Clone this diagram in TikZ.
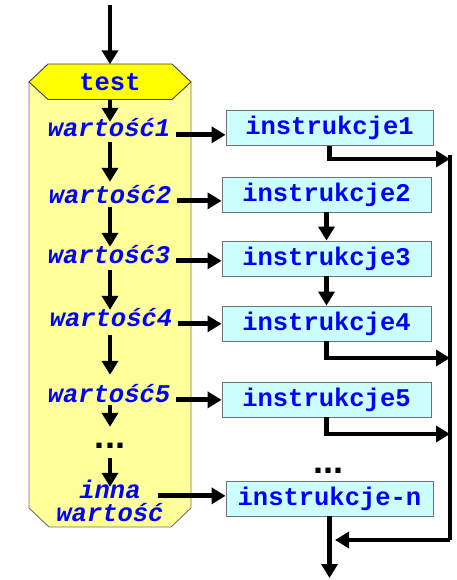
\documentclass[tikz,border=0pt]{standalone}
\usepackage{fontspec}
\usetikzlibrary{arrows.meta}
\newfontfamily\cour{Liberation Mono}
\newfontfamily\arialb{Liberation Sans}
\definecolor{bodyyellow}{HTML}{FFFF99}
\definecolor{hdryellow}{HTML}{FFFF00}
\definecolor{boxcyan}{HTML}{CCFFFF}
\definecolor{txtblue}{HTML}{0000FF}
\definecolor{edge}{HTML}{707070}
\tikzset{
  arr/.style={line width=4.8pt, -{Triangle[length=14pt,width=16pt]}},
  bus/.style={line width=4.8pt},
  val/.style={font=\cour\bfseries\itshape\fontsize{25.5}{28}\selectfont, text=txtblue,
              inner xsep=6pt, inner ysep=0pt, text height=16pt, text depth=6pt, anchor=base},
  hdr/.style={font=\cour\bfseries\fontsize{25.5}{28}\selectfont, text=txtblue,
              minimum height=35pt, inner sep=0pt},
  ibox/.style={draw=edge, line width=0.9pt, fill=boxcyan, text=txtblue,
               font=\cour\bfseries\fontsize{25.5}{28}\selectfont,
               minimum height=35pt, inner sep=0pt},
  dots/.style={font=\arialb\bfseries\fontsize{36}{38}\selectfont, inner sep=0pt, anchor=base}
}
\begin{document}
\begin{tikzpicture}[x=1pt, y=-1pt]
\path[use as bounding box] (0,0) rectangle (457,580);

% switch body and its header
\draw[edge, line width=0.9pt, fill=bodyyellow]
  (29,82) -- (29,508) -- (49,527) -- (171,527) -- (191,508) -- (191,82) -- cycle;
\draw[black!75, line width=0.9pt, fill=hdryellow]
  (29,82) -- (48,64) -- (172,64) -- (191,82) -- (172,99.5) -- (48,99.5) -- cycle;
\node[hdr] (test) at (110,82) {test};

% case values
\node[val, text height=15pt, text depth=5pt] (w1) at (109,137) {wartość1};
\node[val, text height=21pt, text depth=4pt] (w2) at (110,203) {wartość2};
\node[val, text height=16pt, text depth=7pt] (w3) at (109,263) {wartość3};
\node[val, text height=16pt, text depth=9pt] (w4) at (111,326) {wartość4};
\node[val, text height=27pt, text depth=3pt] (w5) at (109,402) {wartość5};
\node[dots, text height=21pt, text depth=10pt] (ldots) at (110,448) {...};
\node[val, text height=11pt, text depth=1pt, inner xsep=17pt] (inna) at (110,498) {inna};
\node[val, text height=14pt, text depth=5pt] (innaw) at (110,521) {wartość};

% instruction blocks
\node[ibox, minimum width=207pt] (i1) at (329.5,128) {instrukcje1};
\node[ibox, minimum width=209pt] (i2) at (326.5,194.5) {instrukcje2};
\node[ibox, minimum width=209pt] (i3) at (326.5,258.5) {instrukcje3};
\node[ibox, minimum width=209pt] (i4) at (326.5,323.5) {instrukcje4};
\node[ibox, minimum width=209pt] (i5) at (326.5,399.5) {instrukcje5};
\node[dots] (rdots) at (328,473) {...};
\node[ibox, minimum width=207pt] (in) at (329.5,498.5) {instrukcje-n};

% entry, exit and the collecting bus
\coordinate (entry) at (110,5);
\coordinate (b1) at (450,159);
\coordinate (b4) at (450,358);
\coordinate (b5) at (450,434);
\coordinate (btop) at (450,155);
\coordinate (bbot) at (450,540);
\coordinate (join) at (335,540);
\coordinate (exit) at (329.5,578);

% flow through the value column
\draw[arr] (entry) -- (test.north);
\draw[arr] (test.south) -- (test.south |- w1.north);
\draw[arr] (test.south |- w1.south) -- (test.south |- w2.north);
\draw[arr] (test.south |- w2.south) -- (test.south |- w3.north);
\draw[arr] (test.south |- w3.south) -- (test.south |- w4.north);
\draw[arr] (test.south |- w4.south) -- (test.south |- w5.north);
\draw[arr] (test.south |- w5.south) -- (ldots.north);
\draw[arr] (ldots.south) -- (inna.north);

% value to instruction block
\draw[arr] (w1.mid east) -- (w1.mid east -| i1.west);
\draw[arr] (w2.mid east) -- (w2.mid east -| i2.west);
\draw[arr] (w3.mid east) -- (w3.mid east -| i3.west);
\draw[arr] (w4.mid east) -- (w4.mid east -| i4.west);
\draw[arr] (w5.mid east) -- (w5.mid east -| i5.west);
\draw[arr] (inna.mid east) -- (inna.mid east -| in.west);

% fall-through and break paths
\draw[arr] (i2.south) -- (i3.north);
\draw[arr] (i3.south) -- (i4.north);
\draw[arr] (i1.south) |- (b1);
\draw[arr] (i4.south) |- (b4);
\draw[arr] (i5.south) |- (b5);
\draw[bus] (btop) -- (bbot);
\draw[arr] (bbot) -- (join);
\draw[arr] (in.south) -- (exit);
\end{tikzpicture}
\end{document}
